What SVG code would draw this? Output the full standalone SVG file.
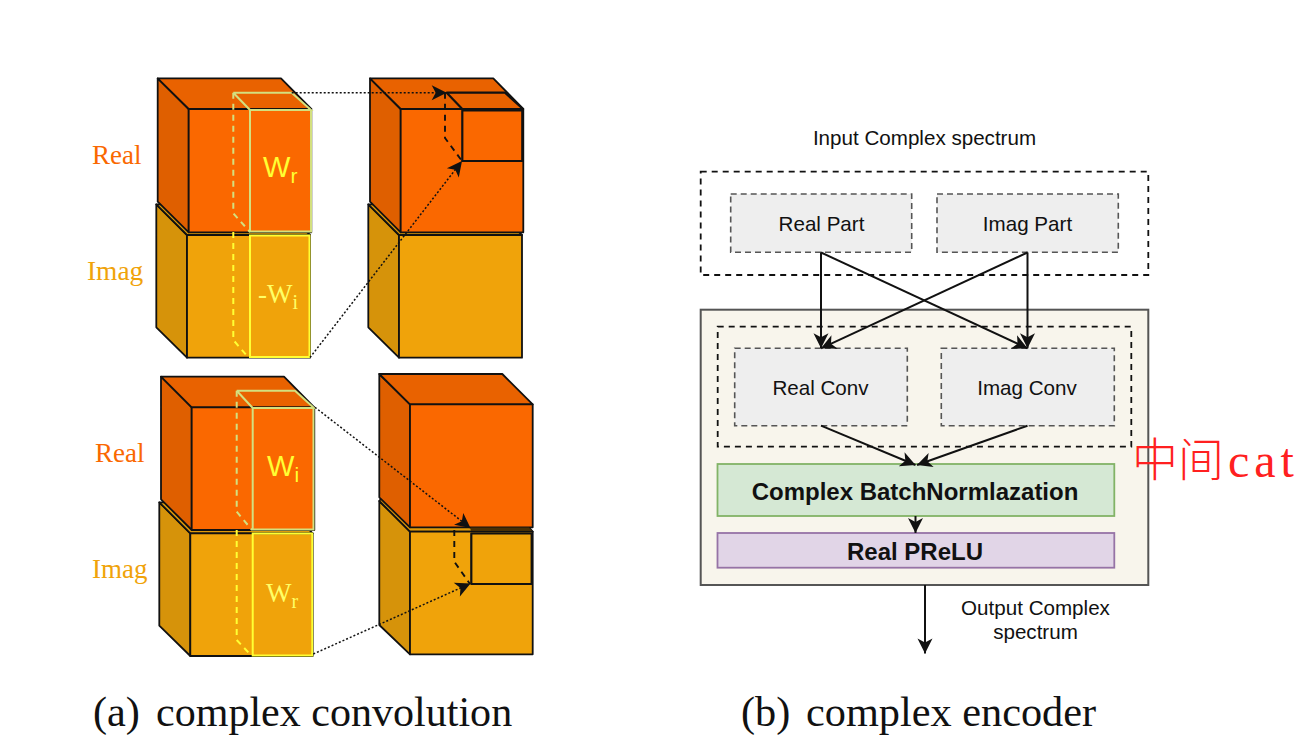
<svg xmlns="http://www.w3.org/2000/svg" width="1316" height="739" viewBox="0 0 1316 739">
<style>
.e{stroke:#111;stroke-width:1.8;stroke-linejoin:round}
.rf{fill:#fa6800}.rt{fill:#e96200}.rs{fill:#df5f00}
.if{fill:#f0a30a}.it{fill:#e09a0a}.is{fill:#d6930a}
.pale{fill:none;stroke:#d3e07f;stroke-width:2}
.yel{fill:none;stroke:#ffff33;stroke-width:2}
.dash{stroke-dasharray:6 5}
.sans{font-family:"Liberation Sans",Arial,sans-serif}
.serif{font-family:"Liberation Serif","Times New Roman",serif}
.lr{font-size:27px;fill:#fa6800}
.li{font-size:27px;fill:#f0a30a}
.w{fill:#ffff33}
.cap{font-size:42.3px;fill:#111}
.t{font-size:20.6px;fill:#111;text-anchor:middle}
.b{font-size:24px;font-weight:bold;fill:#111;text-anchor:middle}
.grey{fill:#eeeeee;stroke:#555;stroke-width:1.6;stroke-dasharray:6 4}
.dbox{fill:none;stroke:#111;stroke-width:1.8;stroke-dasharray:6 5}
.c{fill:none;stroke:#111;stroke-width:2}
.dot{fill:none;stroke:#111;stroke-width:1.5;stroke-dasharray:2 2}
.dsh{fill:none;stroke:#111;stroke-width:1.9;stroke-dasharray:6 5}
</style>
<defs>
<marker id="a" markerUnits="userSpaceOnUse" markerWidth="18" markerHeight="18" refX="16" refY="9" orient="auto"><path d="M1 1.5L16 9L1 16.5L5 9Z" fill="#111"/></marker>
</defs>
<rect width="1316" height="739" fill="#fff"/>

<g id="cube-a-left">
<path class="e is" d="M156.3 204.3L187 235V357.7L156.3 327.3Z"/>
<path class="e it" d="M156.3 204.3H279L310 235H187Z"/>
<path class="e if" d="M187 235H310V357.7H187Z"/>
<path class="e rs" d="M157.7 78.3L188.7 109V232.3L157.7 201.7Z"/>
<path class="e rt" d="M157.7 78.3H281L311.3 109H188.7Z"/>
<path class="e rf" d="M188.7 109H311.3V232.3H188.7Z"/>
<path class="pale" d="M233.3 92.7H291.7L311 110H250V231.5H311V110M233.3 92.7L250 110"/>
<path class="pale dash" d="M233.3 92.7V213.3L250 232"/>
<path class="yel" d="M250 235.5H309.5V357H250Z"/>
<path class="yel dash" d="M233.3 232V340L248 357"/>
<text class="sans w" x="263" y="177" font-size="29">W<tspan font-size="21" dy="6">r</tspan></text>
<text class="serif w" x="258" y="303" font-size="27" style="fill:#ffff66">-W<tspan font-size="20" dy="6">i</tspan></text>
</g>

<g id="cube-a-right">
<path class="e is" d="M368.3 204.3L399 235V357.7L368.3 327.3Z"/>
<path class="e it" d="M368.3 204.3H491L522 235H399Z"/>
<path class="e if" d="M399 235H522V357.7H399Z"/>
<path class="e rs" d="M370 78.3L400.7 109V232.3L370 201.7Z"/>
<path class="e rt" d="M370 78.3H493.3L523.3 109H400.7Z"/>
<path class="e rf" d="M400.7 109H523.3V232.3H400.7Z"/>
<path class="e" fill="none" d="M446.7 92.7H505L523 109H462.3ZM462.3 110.5H522.3V161H462.3Z" style="stroke-width:2.2"/>
</g>

<g id="cube-b-left">
<path class="e is" d="M159.3 502.3L190.3 533.3V656L159.3 625.7Z"/>
<path class="e it" d="M159.3 502.3H282L312.7 533.3H190.3Z"/>
<path class="e if" d="M190.3 533.3H312.7V656H190.3Z"/>
<path class="e rs" d="M161 376.7L191.7 407.3V530L161 499.3Z"/>
<path class="e rt" d="M161 376.7H284L314.3 407.3H191.7Z"/>
<path class="e rf" d="M191.7 407.3H314.3V530H191.7Z"/>
<path class="pale" d="M236.7 390.7H295L314 408H252.7V529.5H313.5V408M236.7 390.7L252.7 408"/>
<path class="pale dash" d="M236.7 390.7V511.7L252 530"/>
<path class="yel" d="M252.7 533.5H312.2V655.5H252.7Z"/>
<path class="yel dash" d="M236.7 530V640L251.7 656"/>
<text class="sans w" x="267" y="476" font-size="29">W<tspan font-size="21" dy="6">i</tspan></text>
<text class="serif w" x="266" y="602" font-size="27" style="fill:#ffff66">W<tspan font-size="20" dy="6">r</tspan></text>
</g>

<g id="cube-b-right">
<path class="e is" d="M379.3 501L410 531.7V654.3L379.3 625Z"/>
<path class="e it" d="M379.3 501L382 497.3H502L532.7 531.7H410Z"/>
<path class="e if" d="M410 531.7H532.7V654.3H410Z"/>
<path class="e rs" d="M379.3 374L410 404.3V527.3L379.3 497.3Z"/>
<path class="e rt" d="M379.3 374H502.3L532.7 404.3H410Z"/>
<path class="e rf" d="M410 404.3H532.7V527.3H410Z"/>
<path d="M470 527.5H529L532 531H471Z" fill="#4a3004"/>
<path class="e" fill="none" d="M471.3 533.5H531.7V584H471.3Z" style="stroke-width:2.2"/>
</g>

<g id="labels-a">
<text class="serif lr" x="92" y="164">Real</text>
<text class="serif li" x="87" y="280" style="font-size:27.4px">Imag</text>
<text class="serif lr" x="95" y="462">Real</text>
<text class="serif li" x="92" y="578">Imag</text>
<text class="serif cap" x="93" y="726">(a)</text>
<text class="serif cap" x="156" y="726" style="font-size:42.05px">complex convolution</text>
<text class="serif cap" x="741" y="726">(b)</text>
<text class="serif cap" x="806" y="726">complex encoder</text>
</g>

<g id="connectors-a">
<path class="dot" d="M291.7 92.7H446.7" marker-end="url(#a)"/>
<path class="dsh" d="M445 92.7V138L462 161"/>
<path class="dot" d="M310 357.5L462 161" marker-end="url(#a)"/>
<path class="dot" d="M315 407.3L470.5 528" marker-end="url(#a)"/>
<path class="dsh" d="M454.3 530V561.7L470 584"/>
<path class="dot" d="M313.3 654L470.5 583.5" marker-end="url(#a)"/>
</g>

<g id="input-group"><rect class="dbox" x="700.7" y="171.7" width="447.6" height="103.3"/></g>
<g id="real-part"><rect class="grey" x="730.7" y="194" width="181" height="58.3"/><text class="t sans" x="821.5" y="231">Real Part</text></g>
<g id="imag-part"><rect class="grey" x="937" y="194" width="181.3" height="58.3"/><text class="t sans" x="1027.5" y="231">Imag Part</text></g>
<g id="encoder"><rect x="700.7" y="309.7" width="447.6" height="275.3" fill="#f8f5ec" stroke="#555" stroke-width="2"/></g>
<g id="conv-group"><rect class="dbox" x="717.7" y="326.7" width="413.6" height="120"/></g>
<g id="real-conv"><rect class="grey" x="734.7" y="348.3" width="172.6" height="77.4"/><text class="t sans" x="820.5" y="395">Real Conv</text></g>
<g id="imag-conv"><rect class="grey" x="941.3" y="348.3" width="173" height="77.4"/><text class="t sans" x="1027" y="395">Imag Conv</text></g>
<g id="batch-norm"><rect x="717.5" y="464" width="396.8" height="52" fill="#d5e8d4" stroke="#82b366" stroke-width="1.8"/><text class="b sans" x="915" y="500">Complex BatchNormlazation</text></g>
<g id="prelu"><rect x="717.5" y="533" width="396.8" height="34.7" fill="#e1d5e7" stroke="#9673a6" stroke-width="1.8"/><text class="b sans" x="915" y="560">Real PReLU</text></g>

<g id="connectors-b">
<path class="c" d="M821 252.5V348.3" marker-end="url(#a)"/>
<path class="c" d="M821 252.5L1027.5 348.3" marker-end="url(#a)"/>
<path class="c" d="M1027.5 252.5L821 348.3" marker-end="url(#a)"/>
<path class="c" d="M1027.5 252.5V348.3" marker-end="url(#a)"/>
<path class="c" d="M821 425.7L915.5 465" marker-end="url(#a)"/>
<path class="c" d="M1027.5 425.7L917 465" marker-end="url(#a)"/>
<path class="c" d="M915.5 516V533" marker-end="url(#a)"/>
<path class="c" d="M925 585V653.5" marker-end="url(#a)"/>
</g>

<g id="texts-b">
<text class="t sans" x="924.5" y="145">Input Complex spectrum</text>
<text class="t sans" x="1035.5" y="615">Output Complex</text>
<text class="t sans" x="1035.5" y="638.5">spectrum</text>
<text x="1132" y="476" font-size="46" fill="#ff2020" font-family="'Noto Sans CJK SC',sans-serif" font-weight="300">中间</text>
<text x="1228" y="477" font-size="48" letter-spacing="5" fill="#ff2020" font-family="'Liberation Serif',serif">cat</text>
</g>
</svg>
